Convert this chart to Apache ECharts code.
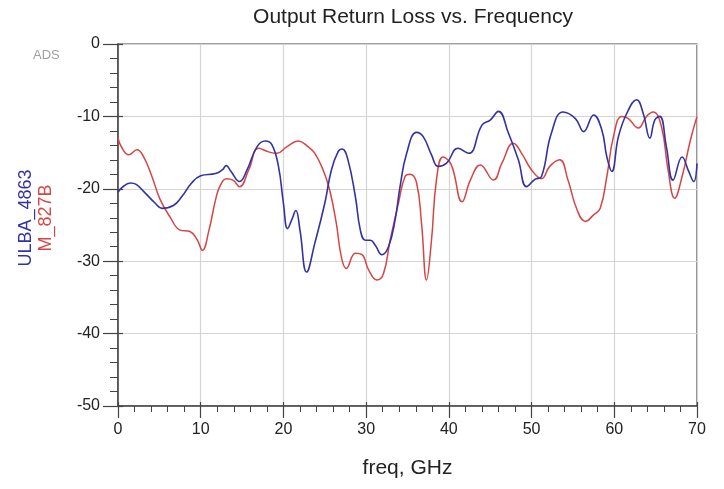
<!DOCTYPE html>
<html>
<head>
<meta charset="utf-8">
<script src="https://cdn.jsdelivr.net/npm/echarts@6/dist/echarts.min.js"></script>
<style>
  html, body { margin: 0; padding: 0; background: #ffffff; }
  #chart { width: 724px; height: 489px; }
</style>
</head>
<body>
<div id="chart"></div>
<script>
// Output return loss (dB) against frequency (GHz) for two parts
const freqTicks = [0, 10, 20, 30, 40, 50, 60, 70];
const lossTicks = [0, -10, -20, -30, -40, -50];

const ulbaFreq = [0, 0.5, 1.5, 2.2, 3.3, 4.5, 5.3, 6.7, 7.7, 8.9, 10.0, 11.8, 12.6, 13.1, 13.6, 14.7, 15.6, 16.8, 17.8, 18.6,
  19.4, 20.0, 20.5, 21.0, 21.5, 22.0, 22.8, 23.8, 25.0, 25.8, 26.6, 27.1, 27.8, 28.7, 29.3, 29.9, 30.5, 31.1, 31.9, 32.7,
  33.5, 34.1, 34.9, 36.1, 36.9, 37.9, 38.7, 39.7, 41.1, 42.4, 44.0, 45.0, 46.0, 47.2, 48.4, 49.4, 50.4, 51.2, 52.4, 53.8,
  55.3, 56.3, 57.5, 58.5, 59.1, 59.7, 60.5, 61.5, 62.7, 63.5, 64.3, 64.9, 65.5, 66.3, 67.1, 68.2, 69.0, 69.6, 70.0];
const ulbaLoss = [-20.5, -19.8, -19.2, -19.4, -20.6, -22.0, -22.7, -22.3, -21.1, -19.2, -18.2, -17.9, -17.4, -16.8, -17.5, -19.0, -17.4, -14.2, -13.4, -13.9,
  -16.9, -22.0, -25.5, -24.3, -23.0, -25.7, -31.5, -27.5, -22.0, -17.4, -14.9, -14.5, -16.0, -21.1, -25.7, -27.1, -27.1, -27.8, -29.1, -28.0,
  -24.3, -19.7, -15.1, -12.2, -12.8, -15.3, -16.9, -16.5, -14.4, -15.1, -11.2, -10.5, -9.3, -12.3, -16.0, -19.7, -18.7, -18.3, -12.3, -9.4,
  -10.3, -12.1, -9.8, -11.9, -15.6, -17.6, -12.8, -9.6, -7.7, -9.6, -13.0, -10.5, -10.0, -14.2, -18.8, -15.6, -17.6, -19.0, -16.5];

const m827Freq = [0, 0.5, 1.3, 2.3, 3.1, 4.1, 5.1, 6.3, 7.5, 8.7, 9.6, 10.2, 11.0, 11.8, 12.3, 13.1, 13.9, 14.7, 15.8, 17.0,
  18.2, 19.2, 20.4, 21.8, 23.0, 23.8, 24.8, 25.6, 26.4, 27.0, 27.6, 28.7, 29.5, 30.3, 31.3, 32.1, 32.9, 33.9, 34.7, 35.3,
  36.1, 36.7, 37.3, 37.9, 38.5, 39.3, 40.3, 41.6, 42.6, 43.8, 45.4, 46.4, 47.8, 48.8, 50.0, 51.2, 52.2, 53.4, 54.4, 55.5,
  56.5, 57.5, 58.3, 59.1, 59.9, 60.9, 61.7, 62.9, 63.9, 64.7, 65.7, 66.5, 67.3, 68.2, 69.2, 70.0];
const m827Loss = [-13.0, -14.4, -15.3, -14.6, -15.6, -18.3, -21.5, -23.9, -25.7, -25.9, -27.1, -28.5, -25.7, -21.5, -19.7, -18.6, -18.8, -19.7, -17.4, -14.4,
  -14.9, -15.1, -14.2, -13.4, -14.2, -15.1, -17.4, -20.2, -24.8, -29.4, -31.0, -28.9, -29.1, -31.2, -32.6, -31.7, -27.1, -22.0, -18.3, -18.0,
  -19.2, -24.8, -32.6, -27.1, -18.8, -15.6, -16.7, -21.8, -18.8, -16.7, -18.8, -16.5, -13.7, -15.1, -17.4, -18.6, -16.9, -16.0, -18.8, -22.9,
  -24.5, -23.6, -22.7, -18.3, -12.8, -10.0, -10.3, -11.6, -10.0, -9.4, -11.4, -17.4, -21.3, -18.3, -13.3, -10.0];

const blue = '#3232a4';
const red = '#d64545';
const axisColor = '#444444';
const font = 'Liberation Sans, Arial, sans-serif';

const zip = (xs, ys) => xs.map((x, i) => [x, ys[i]]);

const chart = echarts.init(document.getElementById('chart'), null, { renderer: 'canvas' });

const xMin = freqTicks[0], xMax = freqTicks[freqTicks.length - 1];
const yMin = lossTicks[lossTicks.length - 1], yMax = lossTicks[0];

chart.setOption({
  animation: false,
  backgroundColor: '#ffffff',
  title: [{
    text: 'Output Return Loss vs. Frequency',
    left: 408, top: 2, textAlign: 'center',
    textStyle: { fontFamily: font, fontSize: 21, fontWeight: 'normal', color: '#222' }
  }],
  graphic: [{
    type: 'text', left: 33, top: 49,
    style: { text: 'ADS', fontFamily: font, fontSize: 13, fill: '#a0a0a0' }
  }],
  grid: {
    left: 118, right: 27, top: 44, bottom: 83,
    show: true, borderColor: axisColor, borderWidth: 1.2, backgroundColor: 'transparent'
  },
  xAxis: [{
    type: 'value', min: xMin, max: xMax, interval: 10,
    name: 'freq, GHz', nameLocation: 'middle', nameGap: 52,
    nameTextStyle: { fontFamily: font, fontSize: 21, color: '#222' },
    axisLine: { show: true, onZero: false, lineStyle: { color: axisColor, width: 1.5 } },
    axisTick: { show: true, length: 12, lineStyle: { color: axisColor, width: 1.2 } },
    minorTick: { show: true, splitNumber: 5, length: 6, lineStyle: { color: axisColor, width: 1 } },
    axisLabel: { margin: 16, fontFamily: font, fontSize: 16, color: '#222' },
    splitLine: { show: true, lineStyle: { color: '#d4d4d4', width: 1.2 } }
  }, {
    // short inward stubs on the major frequency ticks
    type: 'value', min: xMin, max: xMax, interval: 10, position: 'bottom', gridIndex: 0,
    axisLine: { show: false, onZero: false },
    axisTick: { show: true, inside: true, length: 4, lineStyle: { color: axisColor, width: 1.2 } },
    axisLabel: { show: false }, splitLine: { show: false }
  }],
  yAxis: [{
    type: 'value', min: yMin, max: yMax, interval: 10,
    name: '{b|ULBA_4863}\n{r|M_827B}', nameLocation: 'middle', nameGap: 62, nameRotate: 90,
    nameTextStyle: {
      fontFamily: font, lineHeight: 20, padding: [0, 0, 0, 14],
      rich: {
        b: { color: blue, fontSize: 18, fontFamily: font, lineHeight: 20 },
        r: { color: red, fontSize: 18, fontFamily: font, lineHeight: 20 }
      }
    },
    axisLine: { show: true, onZero: false, lineStyle: { color: axisColor, width: 1.5 } },
    axisTick: { show: true, length: 15, lineStyle: { color: axisColor, width: 1.2 } },
    minorTick: { show: true, splitNumber: 5, length: 8, lineStyle: { color: axisColor, width: 1 } },
    axisLabel: { margin: 18, fontFamily: font, fontSize: 16, color: '#222' },
    splitLine: { show: true, lineStyle: { color: '#d4d4d4', width: 1.2 } }
  }, {
    // short inward stubs on the major loss ticks
    type: 'value', min: yMin, max: yMax, interval: 10, position: 'left', gridIndex: 0,
    axisLine: { show: false, onZero: false },
    axisTick: { show: true, inside: true, length: 5, lineStyle: { color: axisColor, width: 1.2 } },
    axisLabel: { show: false }, splitLine: { show: false }
  }],
  series: [{
    name: 'M_827B', type: 'line', smooth: 0.45, symbol: 'none',
    data: zip(m827Freq, m827Loss),
    lineStyle: { color: red, width: 1.5 }
  }, {
    name: 'ULBA_4863', type: 'line', smooth: 0.45, symbol: 'none',
    data: zip(ulbaFreq, ulbaLoss),
    lineStyle: { color: blue, width: 1.6 }
  }]
});
</script>
</body>
</html>
